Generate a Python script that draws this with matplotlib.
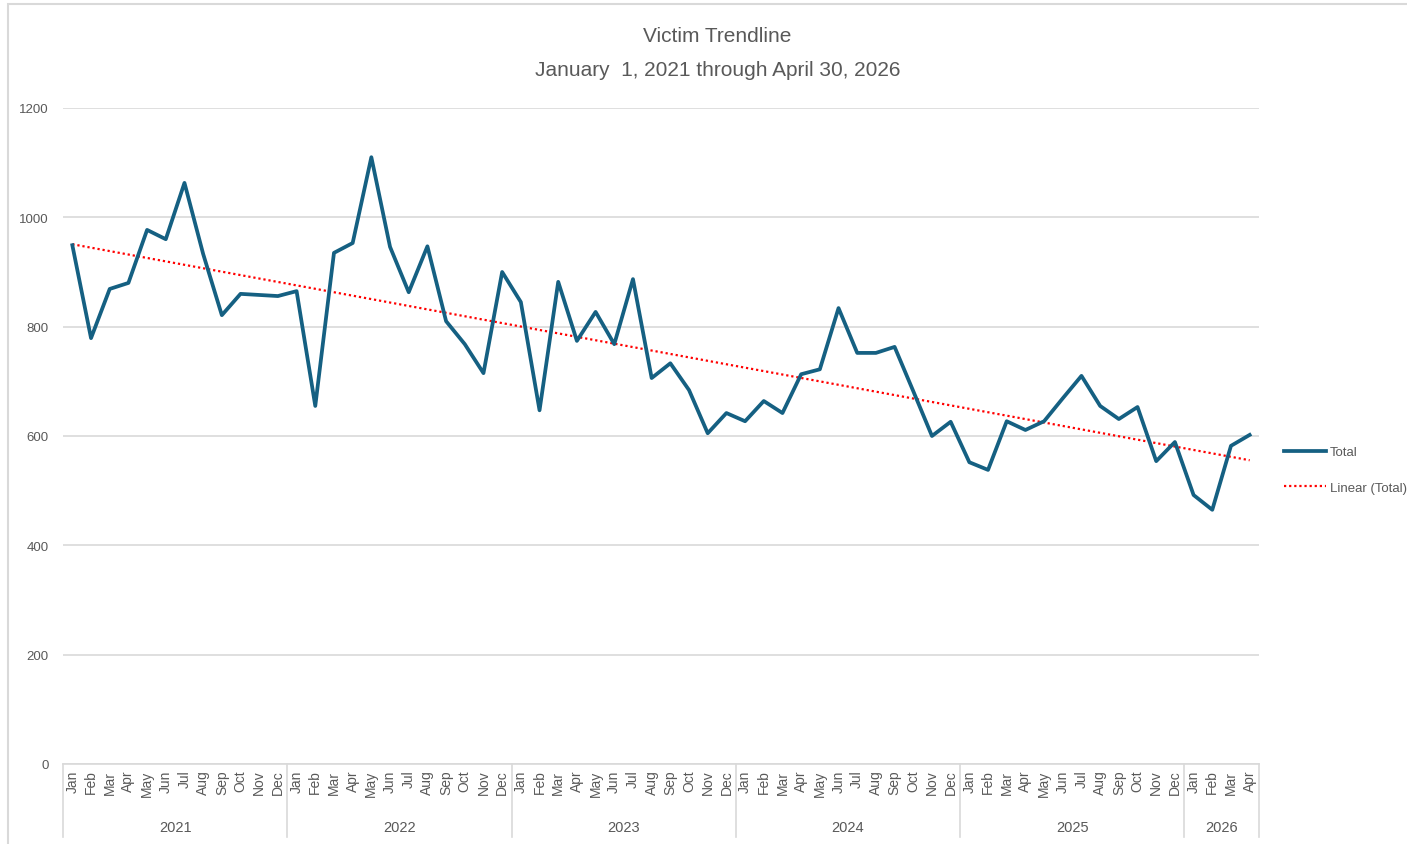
import matplotlib
matplotlib.use('Agg')
import matplotlib.pyplot as plt
import matplotlib.transforms as mtransforms
from matplotlib.patches import Rectangle
import numpy as np

# monthly totals Jan 2021 .. Apr 2026
months = ['Jan', 'Feb', 'Mar', 'Apr', 'May', 'Jun',
          'Jul', 'Aug', 'Sep', 'Oct', 'Nov', 'Dec']
years = ['2021', '2022', '2023', '2024', '2025', '2026']
months_per_year = [12, 12, 12, 12, 12, 4]
totals = [
    949, 779, 869, 880, 977, 960, 1063, 933, 821, 860, 858, 856,
    865, 655, 935, 953, 1110, 946, 863, 947, 810, 768, 715, 900,
    845, 647, 882, 774, 827, 768, 887, 706, 733, 684, 605, 642,
    627, 664, 642, 713, 722, 834, 752, 752, 763, 682, 600, 626,
    552, 538, 627, 611, 627, 669, 710, 655, 631, 653, 554, 589,
    492, 465, 582, 602,
]
y_ticks = [0, 200, 400, 600, 800, 1000, 1200]

line_col = '#156082'
grid_col = '#d9d9d9'
text_col = '#595959'
fam = ['Liberation Sans', 'DejaVu Sans']

x = np.arange(len(totals))
labels = []
for y, n in zip(years, months_per_year):
    labels += months[:n]

# linear trend like excel
k, b = np.polyfit(x, totals, 1)
trend = k * x + b

fig = plt.figure(figsize=(14.07, 8.45), dpi=100)
ax = fig.add_axes([63 / 1407, 1 - 765 / 845, (1259 - 63) / 1407, (765 - 109) / 845])

ax.plot(x, totals, color=line_col, lw=2.7, label='Total', solid_joinstyle='round', zorder=3)
ax.plot(x, trend, color='red', lw=1.6, ls=(0, (1, 1.3)), label='Linear (Total)', zorder=2)

ax.set_xlim(-0.5, len(totals) - 0.5)
ax.set_ylim(0, 1200)
ax.set_yticks(y_ticks)
ax.yaxis.grid(True, color=grid_col, lw=1.2)
ax.set_axisbelow(True)
for s in ax.spines.values():
    s.set_visible(False)
ax.tick_params(axis='y', length=0, pad=10.5, labelsize=9.5, labelcolor=text_col)
ax.set_xticks(x)
ax.set_xticklabels(labels, rotation=90, fontsize=10, color=text_col)
ax.tick_params(axis='x', length=0, pad=4)
for t in ax.get_yticklabels() + ax.get_xticklabels():
    t.set_family(fam)

# year level of the category axis
trans = mtransforms.blended_transform_factory(ax.transData, ax.transAxes)
ax.plot([-0.5, len(totals) - 0.5], [0, 0], color=grid_col, lw=1.2, transform=trans, clip_on=False)
start = -0.5
bounds = [start]
for y, n in zip(years, months_per_year):
    ax.text(start + n / 2, -0.096, y, transform=trans, ha='center', va='center',
            fontsize=10.5, color=text_col, family=fam)
    start += n
    bounds.append(start)
for bx in bounds:
    ax.plot([bx, bx], [0, -0.112], color=grid_col, lw=1.2, transform=trans, clip_on=False)

fig.text(0.51, 1 - 37 / 845, 'Victim Trendline', ha='center', va='center',
         fontsize=15, color=text_col, family=fam)
fig.text(0.51, 1 - 70 / 845, 'January  1, 2021 through April 30, 2026', ha='center', va='center',
         fontsize=15, color=text_col, family=fam)

leg = fig.legend(loc='upper left', bbox_to_anchor=(1284 / 1407, 1 - 447 / 845), frameon=False,
                 fontsize=9.5, handlelength=3.2, handletextpad=0.3, labelspacing=1.75,
                 borderaxespad=0, borderpad=0)
for t in leg.get_texts():
    t.set_color(text_col)
    t.set_family(fam)

# chart border
fig.patches.append(Rectangle((8 / 1407, -0.2), 2, 1.2 - 5 / 845, transform=fig.transFigure,
                             fill=False, edgecolor=grid_col, lw=1.5))

fig.savefig('out.png', dpi=100)
